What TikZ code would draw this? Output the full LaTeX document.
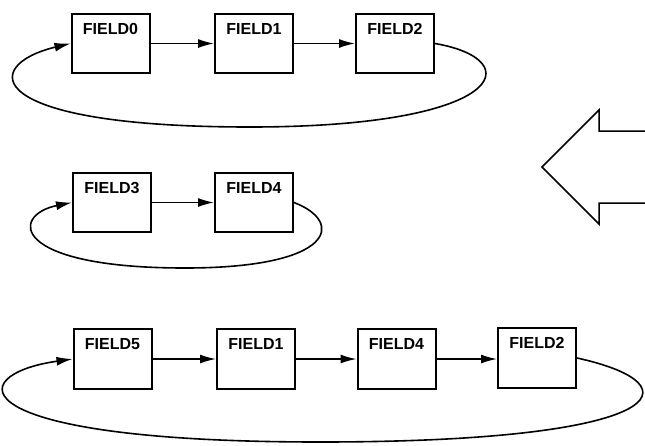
\documentclass[tikz,border=0pt]{standalone}
\usepackage{fontspec}
\setmainfont{Liberation Sans}
\usetikzlibrary{arrows.meta}

\tikzset{
  field/.style={draw, line width=2, minimum width=78pt, minimum height=59pt,
    inner xsep=0pt, inner ysep=9pt, text height=11.5pt, text depth=30pt,
    font=\fontsize{16}{18}\selectfont\bfseries},
  link/.style={-{Latex[length=16pt, width=9pt]}, line width=1.5},
  loop/.style={-{Latex[length=16pt, width=9pt]}, line width=1.6}
}

\begin{document}
\begin{tikzpicture}[x=1pt, y=-1pt]

  \useasboundingbox (0, 0) rectangle (645, 445);

  % first list
  \node[field] (a0) at (110.5, 43.5) {FIELD0};
  \node[field] (a1) at (254, 43.5) {FIELD1};
  \node[field] (a2) at (395, 43.5) {FIELD2};
  \draw[link] (a0) -- (a1);
  \draw[link] (a1) -- (a2);
  \draw[loop] (a2.east) .. controls (530, 60) and (505, 127) .. (250, 127)
                        .. controls (-20, 127) and (-20, 65) .. (a0.west);

  % second list
  \node[field] (b3) at (112, 202.5) {FIELD3};
  \node[field] (b4) at (254, 202.5) {FIELD4};
  \draw[link] (b3) -- (b4);
  \draw[loop] (b4.east) .. controls (345, 222) and (335, 268) .. (185, 268)
                        .. controls (10, 268) and (10, 215) .. (b3.west);

  % merged list
  \node[field] (c5) at (112.5, 359) {FIELD5};
  \node[field] (c1) at (256, 359) {FIELD1};
  \node[field] (c4) at (396.5, 359) {FIELD4};
  \node[field] (c2) at (537, 358) {FIELD2};
  \draw[link] (c5) -- (c1);
  \draw[link] (c1) -- (c4);
  \draw[link] (c4.east) -- (c2.west |- c4.east);
  \draw[loop] (c2.east) .. controls (700, 385) and (670, 442) .. (320, 442)
                        .. controls (-40, 442) and (-40, 375) .. (c5.west);

  % big open arrow
  \draw[line width=1.5] (645, 131) -- (599, 131) -- (599, 110) -- (542, 167)
        -- (599, 224) -- (599, 203) -- (645, 203);

\end{tikzpicture}
\end{document}
